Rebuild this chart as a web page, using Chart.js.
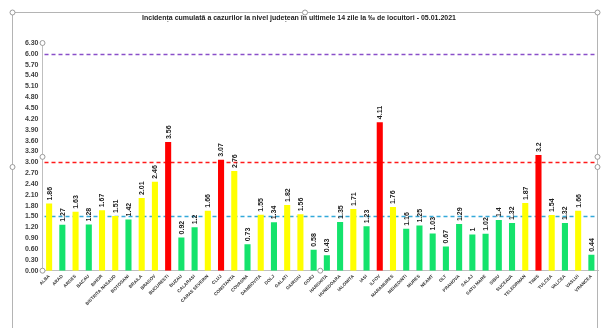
<!DOCTYPE html>
<html>
<head>
<meta charset="utf-8">
<script src="https://cdn.jsdelivr.net/npm/chart.js@4.4.1/dist/chart.umd.min.js"></script>
<style>
  html, body { margin: 0; padding: 0; background: #ffffff; }
  #wrap { position: relative; width: 610px; height: 328px; }
</style>
</head>
<body>
<div id="wrap"><canvas id="c" width="610" height="328"></canvas></div>
<script>
const TITLE = 'Incidența cumulată a cazurilor la nivel județean în ultimele 14 zile la ‰ de locuitori - 05.01.2021';

const counties = ['ALBA','ARAD','ARGES','BACAU','BIHOR','BISTRITA NASAUD','BOTOSANI','BRAILA','BRASOV','BUCURESTI',
  'BUZAU','CALARASI','CARAS SEVERIN','CLUJ','CONSTANTA','COVASNA','DAMBOVITA','DOLJ','GALATI','GIURGIU',
  'GORJ','HARGHITA','HUNEDOARA','IALOMITA','IASI','ILFOV','MARAMURES','MEHEDINTI','MURES','NEAMT',
  'OLT','PRAHOVA','SALAJ','SATU MARE','SIBIU','SUCEAVA','TELEORMAN','TIMIS','TULCEA','VALCEA',
  'VASLUI','VRANCEA'];

const incidence = [1.86,1.27,1.63,1.28,1.67,1.51,1.42,2.01,2.46,3.56,
  0.92,1.2,1.66,3.07,2.76,0.73,1.55,1.34,1.82,1.56,
  0.58,0.43,1.35,1.71,1.23,4.11,1.76,1.16,1.25,1.03,
  0.67,1.29,1,1.02,1.4,1.32,1.87,3.2,1.54,1.32,
  1.66,0.44];

const thresholds = [6, 3, 1.5];
const yMin = 0, yMax = 6.3, yStep = 0.3;

const COL_RED = '#ff0000', COL_YELLOW = '#ffff00', COL_GREEN = '#14e36c';
const LINE_COLS = ['#8a4fc9', '#ff1a1a', '#33a9d9'];

const barColors = incidence.map(v => v >= 3 ? COL_RED : (v >= 1.5 ? COL_YELLOW : COL_GREEN));

const FONT = '"Liberation Sans", Arial, sans-serif';

const decor = {
  id: 'decor',
  beforeDatasetsDraw(chart) {
    const ctx = chart.ctx, ca = chart.chartArea, y = chart.scales.y;
    ctx.save();
    ctx.lineWidth = 1.5;
    ctx.setLineDash([4, 3]);
    thresholds.forEach((t, i) => {
      const py = Math.round(y.getPixelForValue(t)) + 0.5;
      ctx.strokeStyle = LINE_COLS[i];
      ctx.beginPath();
      ctx.moveTo(ca.left + 2, py);
      ctx.lineTo(ca.right, py);
      ctx.stroke();
    });
    ctx.restore();
  },
  afterDatasetsDraw(chart) {
    const ctx = chart.ctx;
    const meta = chart.getDatasetMeta(0);
    ctx.save();
    ctx.font = 'bold 7px ' + FONT;
    ctx.fillStyle = '#222222';
    ctx.textAlign = 'left';
    ctx.textBaseline = 'middle';
    meta.data.forEach((el, i) => {
      ctx.save();
      ctx.translate(el.x, el.y - 3);
      ctx.rotate(-Math.PI / 2);
      ctx.fillText(String(incidence[i]), 0, 0.5);
      ctx.restore();
    });
    ctx.restore();
  },
  afterDraw(chart) {
    const ctx = chart.ctx, ca = chart.chartArea;
    ctx.save();
    ctx.strokeStyle = '#b4b4b4';
    ctx.lineWidth = 1;
    const fl = 12.5, ft = 12.5, fr = 597.5;
    ctx.beginPath();
    ctx.moveTo(fl, 328); ctx.lineTo(fl, ft); ctx.lineTo(fr, ft); ctx.lineTo(fr, 328);
    ctx.stroke();
    const handles = [
      [fl, ft], [(fl + fr) / 2, ft], [fr, ft], [fl, 167], [fr, 167],
      [ca.left, ca.top], [ca.left, (ca.top + ca.bottom) / 2], [ca.left, ca.bottom],
      [(ca.left + ca.right) / 2, ca.bottom], [fr, (ca.top + ca.bottom) / 2]
    ];
    handles.forEach(([hx, hy]) => {
      ctx.beginPath();
      ctx.arc(hx, hy, 2.5, 0, Math.PI * 2);
      ctx.fillStyle = '#ffffff';
      ctx.fill();
      ctx.strokeStyle = '#9a9a9a';
      ctx.stroke();
    });
    ctx.restore();
  }
};

new Chart(document.getElementById('c'), {
  type: 'bar',
  data: {
    labels: counties,
    datasets: [{
      data: incidence,
      backgroundColor: barColors,
      borderWidth: 0,
      barPercentage: 0.46,
      categoryPercentage: 1.0
    }]
  },
  options: {
    responsive: false,
    animation: false,
    devicePixelRatio: 1,
    layout: { padding: { left: 0, right: 12, top: 0, bottom: 0 } },
    plugins: {
      legend: { display: false },
      tooltip: { enabled: false },
      title: {
        display: true,
        text: TITLE,
        color: '#222222',
        font: { family: FONT, size: 7, weight: 'bold', lineHeight: 1.2 },
        padding: { top: 14, bottom: 20.6 }
      }
    },
    scales: {
      x: {
        grid: { display: false, drawTicks: false },
        border: { display: true, color: '#bfbfbf', width: 1 },
        ticks: {
          autoSkip: false,
          minRotation: 45,
          maxRotation: 45,
          padding: 3,
          color: '#333333',
          font: { family: FONT, size: 4.5, weight: 'bold' }
        },
        afterFit(scale) { scale.height = 57.3; }
      },
      y: {
        min: yMin,
        max: yMax,
        grid: { display: false, drawTicks: false },
        border: { display: true, color: '#bfbfbf', width: 1 },
        ticks: {
          autoSkip: false,
          stepSize: yStep,
          padding: 4,
          color: '#404040',
          font: { family: FONT, size: 7, weight: 'bold' },
          callback: v => Number(v).toFixed(2)
        },
        afterFit(scale) { scale.width = 42.5; }
      }
    }
  },
  plugins: [decor]
});
</script>
</body>
</html>
